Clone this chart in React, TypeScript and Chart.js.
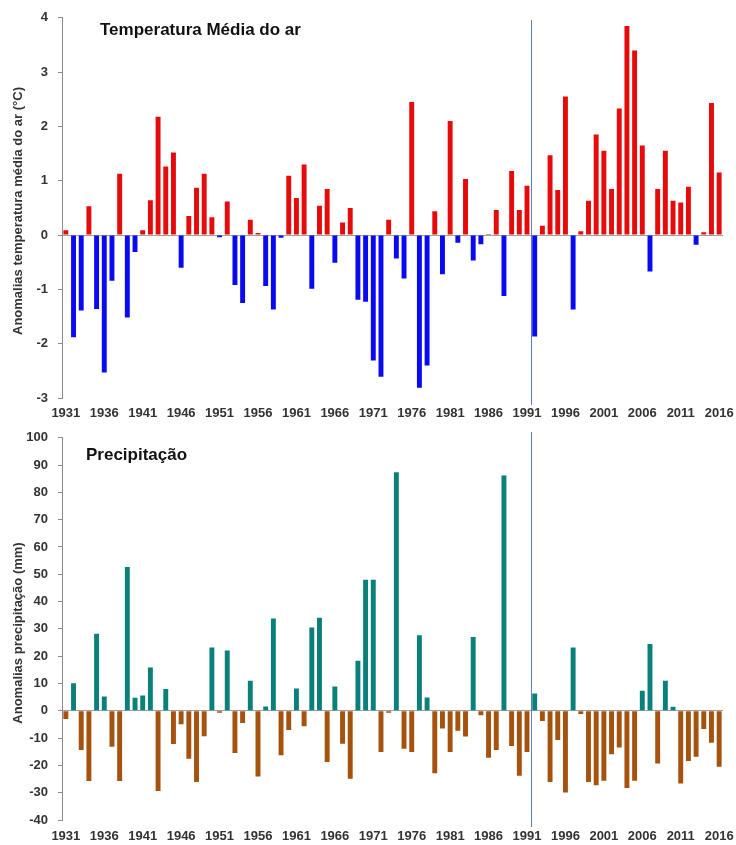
import React, { useEffect, useRef } from 'react';
import { Chart, registerables } from 'chart.js';

Chart.register(...registerables);

const years = [
  '1931','1932','1933','1934','1935','1936','1937','1938','1939','1940',
  '1941','1942','1943','1944','1945','1946','1947','1948','1949','1950',
  '1951','1952','1953','1954','1955','1956','1957','1958','1959','1960',
  '1961','1962','1963','1964','1965','1966','1967','1968','1969','1970',
  '1971','1972','1973','1974','1975','1976','1977','1978','1979','1980',
  '1981','1982','1983','1984','1985','1986','1987','1988','1989','1990',
  '1991','1992','1993','1994','1995','1996','1997','1998','1999','2000',
  '2001','2002','2003','2004','2005','2006','2007','2008','2009','2010',
  '2011','2012','2013','2014','2015','2016',
];

const labelYears = ['1931','1936','1941','1946','1951','1956','1961','1966','1971','1976','1981','1986','1991','1996','2001','2006','2011','2016'];

const tempAnomaly = [
  0.09, -1.88, -1.39, 0.53, -1.36, -2.53, -0.84, 1.13, -1.52, -0.31,
  0.09, 0.64, 2.18, 1.26, 1.52, -0.60, 0.35, 0.87, 1.13, 0.33,
  -0.04, 0.62, -0.92, -1.25, 0.28, 0.04, -0.94, -1.37, -0.05, 1.09,
  0.68, 1.30, -0.99, 0.54, 0.85, -0.51, 0.23, 0.50, -1.19, -1.23,
  -2.31, -2.61, 0.28, -0.43, -0.80, 2.45, -2.81, -2.40, 0.44, -0.72,
  2.10, -0.14, 1.03, -0.47, -0.17, 0.02, 0.46, -1.12, 1.18, 0.46,
  0.91, -1.87, 0.17, 1.47, 0.83, 2.55, -1.37, 0.07, 0.63, 1.85,
  1.55, 0.85, 2.33, 3.85, 3.40, 1.65, -0.67, 0.85, 1.55, 0.63,
  0.60, 0.89, -0.18, 0.05, 2.43, 1.15,
];

const precipAnomaly = [
  -3.0, 10.1, -14.4, -25.7, 28.2, 5.2, -13.2, -25.7, 52.7, 4.8,
  5.6, 15.9, -29.4, 8.0, -12.2, -4.9, -17.6, -26.1, -9.3, 23.2,
  -0.7, 22.1, -15.5, -4.5, 11.0, -24.1, 1.6, 33.8, -16.3, -7.0,
  8.2, -5.7, 30.5, 34.1, -18.8, 8.9, -12.1, -24.9, 18.3, 48.0,
  48.0, -15.1, -0.7, 87.4, -13.9, -15.1, 27.7, 4.9, -22.9, -6.5,
  -15.1, -7.3, -9.4, 27.0, -1.6, -17.2, -14.4, 86.2, -12.9, -23.8,
  -15.1, 6.3, -3.7, -26.1, -10.7, -29.9, 23.2, -1.2, -26.1, -27.3,
  -25.6, -15.9, -13.4, -28.3, -25.6, 7.3, 24.5, -19.3, 11.0, 1.5,
  -26.6, -18.4, -16.8, -6.7, -11.7, -20.5,
];

const referenceYear = '1991';

const FONT = "'Liberation Sans', Arial, sans-serif";
const TEXT = '#333333';

type PanelProps = {
  width: number;
  height: number;
  values: number[];
  posColor: string;
  negColor: string;
  min: number;
  max: number;
  step: number;
  title: string;
  titleX: number;
  titleY: number;
  yTitle: string;
  yTitleY: number;
  xAxisHeight: number;
  xPad: number;
  lineTop: number;
  lineBottom: number;
};

function Panel(p: PanelProps) {
  const ref = useRef<HTMLCanvasElement | null>(null);
  useEffect(() => {
    if (!ref.current) return;
    const decor = {
      id: 'decor',
      afterDatasetsDraw(chart: any) {
        const ctx = chart.ctx;
        const xs = chart.scales.x;
        const idx = years.indexOf(referenceYear);
        const lx = Math.round((xs.getPixelForValue(idx) + xs.getPixelForValue(idx + 1)) / 2) + 0.5;
        ctx.save();
        ctx.strokeStyle = '#5b7fbf';
        ctx.lineWidth = 1;
        ctx.beginPath();
        ctx.moveTo(lx, p.lineTop);
        ctx.lineTo(lx, p.lineBottom);
        ctx.stroke();
        ctx.fillStyle = '#111';
        ctx.font = `bold 17px ${FONT}`;
        ctx.textAlign = 'left';
        ctx.textBaseline = 'middle';
        ctx.fillText(p.title, p.titleX, p.titleY);
        ctx.translate(18, p.yTitleY);
        ctx.rotate(-Math.PI / 2);
        ctx.font = `bold 13px ${FONT}`;
        ctx.fillStyle = TEXT;
        ctx.textAlign = 'center';
        ctx.fillText(p.yTitle, 0, 0);
        ctx.restore();
      },
    };
    const chart = new Chart(ref.current, {
      type: 'bar',
      data: {
        labels: years,
        datasets: [
          {
            data: p.values,
            backgroundColor: p.values.map((v) => (v >= 0 ? p.posColor : p.negColor)),
            borderWidth: 0,
            barPercentage: 0.64,
            categoryPercentage: 1,
          },
        ],
      },
      options: {
        responsive: false,
        animation: false,
        devicePixelRatio: 1,
        layout: { padding: { left: 0, right: 13, top: 17, bottom: 0 } },
        plugins: { legend: { display: false }, tooltip: { enabled: false }, title: { display: false } },
        scales: {
          x: {
            offset: true,
            grid: { display: false, drawTicks: false },
            border: { display: false },
            ticks: {
              autoSkip: false,
              maxRotation: 0,
              minRotation: 0,
              padding: p.xPad,
              color: TEXT,
              font: { family: FONT, size: 13, weight: 'bold' },
              callback: (_v: any, i: number) => (labelYears.includes(years[i]) ? years[i] : ''),
            },
            afterFit: (s: any) => {
              s.height = p.xAxisHeight;
              s.paddingLeft = 0;
              s.paddingRight = 0;
            },
          },
          y: {
            min: p.min,
            max: p.max,
            grid: {
              color: (c: any) => (c.tick && c.tick.value === 0 ? '#a0a0a0' : 'rgba(0,0,0,0)'),
              tickColor: '#8c8c8c',
              tickLength: 4,
              drawTicks: true,
            },
            border: { display: true, color: '#8c8c8c', width: 1 },
            ticks: {
              stepSize: p.step,
              padding: 10,
              color: TEXT,
              font: { family: FONT, size: 13, weight: 'bold' },
            },
            afterFit: (s: any) => {
              s.width = 62;
            },
          },
        },
      },
      plugins: [decor],
    } as any);
    return () => chart.destroy();
  }, []);
  return <canvas ref={ref} width={p.width} height={p.height} style={{ display: 'block', width: p.width, height: p.height }} />;
}

export default function App() {
  return (
    <div style={{ position: 'absolute', left: 0, top: 0, width: 736, height: 845, background: '#fff' }}>
      <Panel
        width={736}
        height={420}
        values={tempAnomaly}
        posColor="#e60a0a"
        negColor="#0a0af2"
        min={-3}
        max={4}
        step={1}
        title="Temperatura Média do ar"
        titleX={100}
        titleY={30}
        yTitle="Anomalias temperatura média do ar (°C)"
        yTitleY={211}
        xAxisHeight={22}
        xPad={8}
        lineTop={20}
        lineBottom={405}
      />
      <Panel
        width={736}
        height={425}
        values={precipAnomaly}
        posColor="#0b807a"
        negColor="#a4520e"
        min={-40}
        max={100}
        step={10}
        title="Precipitação"
        titleX={86}
        titleY={35}
        yTitle="Anomalias precipitação (mm)"
        yTitleY={213}
        xAxisHeight={25}
        xPad={9}
        lineTop={12}
        lineBottom={407}
      />
    </div>
  );
}
